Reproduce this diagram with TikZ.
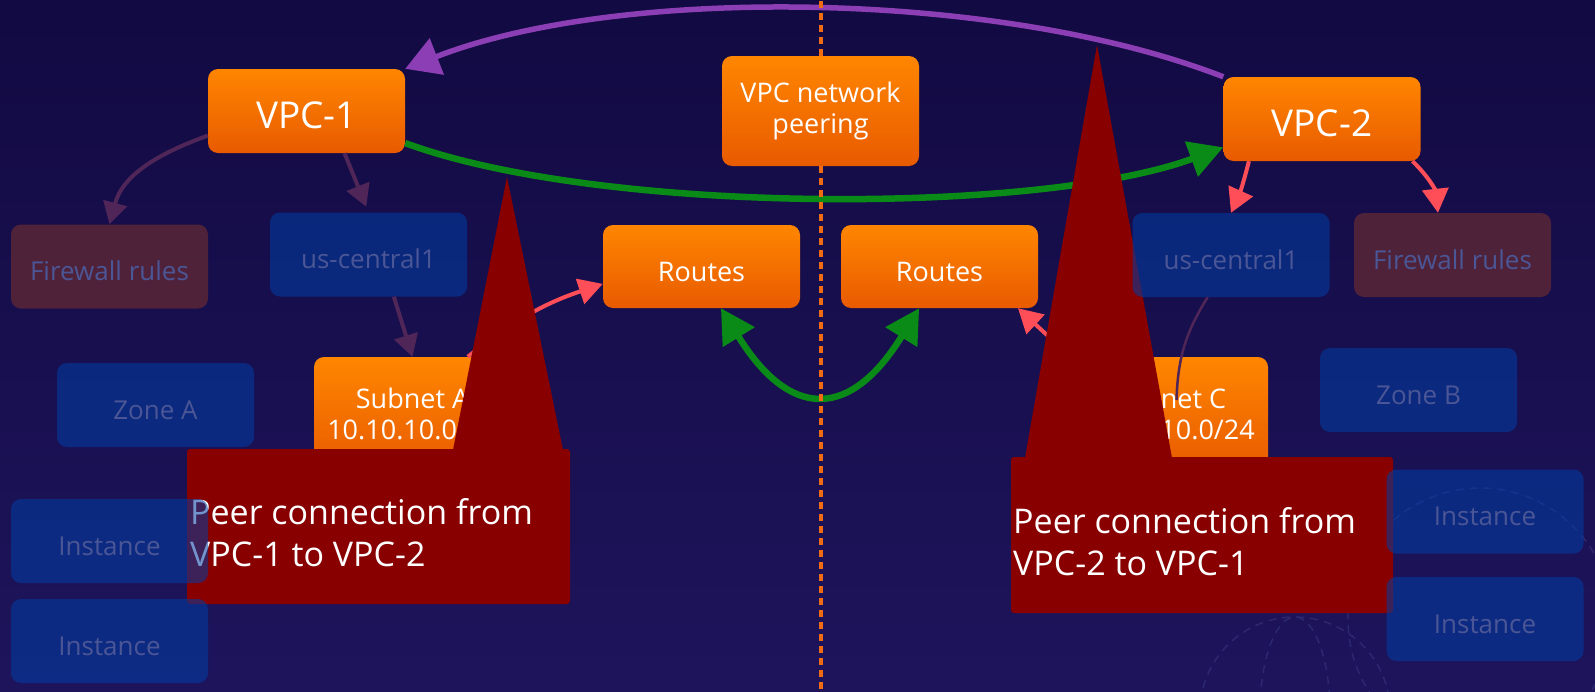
\documentclass[tikz,border=0pt]{standalone}
\usepackage{fontspec}
\setmainfont{Open Sans}
\usetikzlibrary{arrows.meta}
\definecolor{bgtop}{RGB}{18,10,66}
\definecolor{bgbot}{RGB}{30,20,92}
\definecolor{orngtop}{RGB}{255,134,0}
\definecolor{orngbot}{RGB}{232,90,0}
\definecolor{calloutred}{RGB}{136,0,0}
\definecolor{dimblue}{RGB}{0,62,165}
\definecolor{dimbrown}{RGB}{135,55,40}
\definecolor{dimtext}{RGB}{75,86,150}
\definecolor{dimline}{RGB}{80,38,88}
\definecolor{peerpurple}{RGB}{140,62,180}
\definecolor{peergreen}{RGB}{10,138,22}
\definecolor{routered}{RGB}{255,78,88}
\definecolor{divider}{RGB}{240,108,20}
\definecolor{globeline}{RGB}{44,40,112}
\begin{document}
\begin{tikzpicture}[x=1pt, y=1pt, >={Triangle[length=22pt,width=24pt]},
    orangebox/.style={rounded corners=10pt, top color=orngtop, bottom color=orngbot, text=white,
      minimum width=197pt, minimum height=83pt, inner sep=0pt, align=center,
      font=\fontsize{27}{31}\selectfont, text height=29.5pt, text depth=0pt},
    vpcbox/.style={orangebox, minimum height=84pt, font=\fontsize{37}{40}\selectfont, text height=35pt},
    twoline/.style={text height=, text depth=},
    dimbox/.style={rounded corners=10pt, fill=dimblue, fill opacity=.55, text opacity=1, text=dimtext,
      minimum width=197pt, minimum height=84pt, inner sep=0pt,
      font=\fontsize{26}{31}\selectfont, text height=28.6pt, text depth=0pt},
    dimfw/.style={dimbox, fill=dimbrown, fill opacity=.5},
    purplearrow/.style={draw=peerpurple, line width=5.5pt, -{Triangle[length=34pt,width=38pt]}},
    greenarrow/.style={draw=peergreen, line width=6.5pt, -{Triangle[length=34pt,width=36pt]}},
    greenboth/.style={greenarrow, {Triangle[length=34pt,width=36pt]}-{Triangle[length=34pt,width=36pt]}},
    redarrow/.style={draw=routered, line width=4pt, -{Triangle[length=24pt,width=26pt]}},
    dimarrow/.style={draw=dimline, line width=4pt, ->},
    dimthin/.style={draw=dimline, line width=2.5pt},
    dividerline/.style={draw=divider, line width=4pt, dash pattern=on 7pt off 5pt},
    callout/.style={fill=calloutred},
    callouttext/.style={text=white, font=\fontsize{34}{42}\selectfont, align=left, inner sep=0pt, anchor=north west}]
    \useasboundingbox (0,0) rectangle (1595,-691);
    \shade[top color=bgtop, bottom color=bgbot] (0,0) rectangle (1595,-691);
    % faint globe in the corner
    \begin{scope}[draw=globeline, line width=1.5pt, dash pattern=on 8pt off 6pt]
      \draw (1295,-712) circle[radius=95];
      \draw (1295,-712) ellipse[x radius=35, y radius=95];
      \draw (1480,-620) circle[radius=132];
    \end{scope}

    \node[vpcbox] (vpcA) at (306.5,-111) {VPC-1};
    \node[orangebox, twoline, minimum height=110pt] (peering) at (820.5,-111) {VPC network\\peering};
    \node[vpcbox] (vpcB) at (1322,-119) {VPC-2};
    \node[orangebox] (routesA) at (701.5,-266.5) {Routes};
    \node[orangebox] (routesB) at (939.5,-266.5) {Routes};
    \node[orangebox, twoline, minimum height=114pt] (subA) at (412.5,-414) {Subnet A\\10.10.10.0/24};
    \node[orangebox, twoline, minimum height=114pt] (subC) at (1169.5,-414) {Subnet C\\10.20.10.0/24};

    \draw[purplearrow] (vpcB.north west) .. controls (1000,10) and (620,15) .. (vpcA.north east);
    \draw[greenarrow] (vpcA.-18) .. controls (600,-215) and (1040,-215) .. (vpcB.196);
    \draw[greenboth] (routesA.-65) .. controls (790,-420) and (850,-420) .. (routesB.-116);
    \draw[redarrow] (subA.46) to[bend left=10] (routesA.190);
    \draw[redarrow] (subC.150) -- (routesB.-28);

    \draw[dividerline] (peering.north) -- (peering.north |- 0,0);
    \draw[dividerline] (peering.south) -- (peering.south |- 0,-691);

    % the two call-outs
    \fill[callout] (453,-450) -- (507,-177) -- (563,-450) -- cycle;
    \fill[callout, rounded corners=3pt] (187,-449) rectangle (570,-604);
    \node[callouttext] (peerA) at (190,-498) {Peer connection from\\VPC-1 to VPC-2};
    \fill[callout] (1025,-458) -- (1097,-45) -- (1172,-458) -- cycle;
    \fill[callout, rounded corners=3pt] (1011,-457) rectangle (1393,-613);
    \node[callouttext] (peerB) at (1013,-507) {Peer connection from\\VPC-2 to VPC-1};

    \node[dimfw] (fwA) at (109.5,-266.5) {Firewall rules};
    \node[dimbox] (usA) at (368.5,-254.5) {us-central1};
    \node[dimbox] (zoneA) at (155.5,-405) {Zone A};
    \node[dimbox] (instA1) at (109.5,-541) {Instance};
    \node[dimbox] (instA2) at (109.5,-641) {Instance};
    \node[dimbox] (usB) at (1231,-255) {us-central1};
    \node[dimfw] (fwB) at (1452.5,-255) {Firewall rules};
    \node[dimbox] (zoneB) at (1418.5,-390) {Zone B};
    \node[dimbox] (instB1) at (1485,-511.5) {Instance};
    \node[dimbox] (instB2) at (1485,-619) {Instance};

    \draw[dimarrow] (vpcA.194) to[out=200, in=75] (fwA.north);
    \draw[dimarrow, shorten >=6pt] (vpcA.-48) -- (usA.north);
    \draw[dimarrow] (usA.-59) -- (subA.north);
    \coordinate (subCin) at ([shift={(7,14)}]subC.center);
    \draw[dimthin] (usB.-119) to[bend right=15] (subCin);
    \draw[redarrow] (vpcB.-150) to[bend left=5] (usB.north);
    \draw[redarrow] (vpcB.-25) to[bend left=20] (fwB.109);
\end{tikzpicture}
\end{document}
